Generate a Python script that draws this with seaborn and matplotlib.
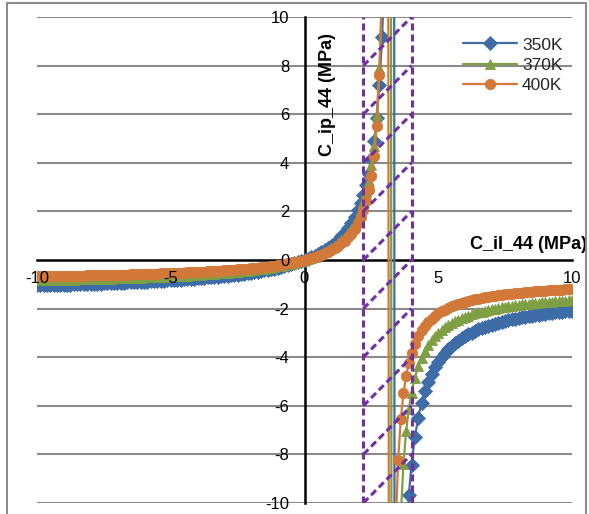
import matplotlib
matplotlib.use('Agg')
import matplotlib.pyplot as plt
import seaborn as sns
from matplotlib.patches import Rectangle

# valores (C_il_44 vs C_ip_44, MPa)
x_vals = [-10.0, -9.875, -9.75, -9.625, -9.5, -9.375, -9.25, -9.125,
          -9.0, -8.875, -8.75, -8.625, -8.5, -8.375, -8.25, -8.125,
          -8.0, -7.875, -7.75, -7.625, -7.5, -7.375, -7.25, -7.125,
          -7.0, -6.875, -6.75, -6.625, -6.5, -6.375, -6.25, -6.125,
          -6.0, -5.875, -5.75, -5.625, -5.5, -5.375, -5.25, -5.125,
          -5.0, -4.875, -4.75, -4.625, -4.5, -4.375, -4.25, -4.125,
          -4.0, -3.875, -3.75, -3.625, -3.5, -3.375, -3.25, -3.125,
          -3.0, -2.875, -2.75, -2.625, -2.5, -2.375, -2.25, -2.125,
          -2.0, -1.875, -1.75, -1.625, -1.5, -1.375, -1.25, -1.125,
          -1.0, -0.875, -0.75, -0.625, -0.5, -0.375, -0.25, -0.125,
          0.0, 0.125, 0.25, 0.375, 0.5, 0.625, 0.75, 0.875,
          1.0, 1.125, 1.25, 1.375, 1.5, 1.625, 1.75, 1.875,
          2.0,
          2.1, 2.2, 2.3, 2.4, 2.5, 2.6, 2.7, 2.8, 2.9, 3.0,
          3.1, 3.2, 3.3, 3.4, 3.5, 3.6, 3.7, 3.8, 3.9, 4.0,
          4.125, 4.25, 4.375, 4.5, 4.625, 4.75, 4.875, 5.0,
          5.125, 5.25, 5.375, 5.5, 5.625, 5.75, 5.875, 6.0,
          6.125, 6.25, 6.375, 6.5, 6.625, 6.75, 6.875, 7.0,
          7.125, 7.25, 7.375, 7.5, 7.625, 7.75, 7.875, 8.0,
          8.125, 8.25, 8.375, 8.5, 8.625, 8.75, 8.875, 9.0,
          9.125, 9.25, 9.375, 9.5, 9.625, 9.75, 9.875, 10.0]

y_350 = [-1.04, -1.04, -1.04, -1.03, -1.03, -1.02, -1.02, -1.02,
         -1.01, -1.01, -1.01, -1.00, -1.00, -0.99, -0.99, -0.98,
         -0.98, -0.98, -0.97, -0.97, -0.96, -0.96, -0.95, -0.95,
         -0.94, -0.94, -0.93, -0.92, -0.92, -0.91, -0.91, -0.90,
         -0.89, -0.89, -0.88, -0.87, -0.87, -0.86, -0.85, -0.84,
         -0.83, -0.82, -0.82, -0.81, -0.80, -0.79, -0.78, -0.77,
         -0.76, -0.75, -0.74, -0.72, -0.71, -0.70, -0.69, -0.67,
         -0.66, -0.64, -0.63, -0.61, -0.60, -0.58, -0.56, -0.54,
         -0.52, -0.50, -0.48, -0.45, -0.43, -0.41, -0.38, -0.35,
         -0.32, -0.29, -0.25, -0.22, -0.18, -0.14, -0.10, -0.05,
         0.0, 0.05, 0.11, 0.18, 0.24, 0.32, 0.40, 0.49,
         0.59, 0.71, 0.83, 0.97, 1.13, 1.32, 1.53, 1.78,
         2.07,
         2.35, 2.68, 3.07, 3.55, 4.14, 4.88, 5.86, 7.21, 9.16, 12.26,
         17.95, 31.77, 114.7, -78.77, -30.41, -19.25, -14.29, -11.48, -9.68, -8.42,
         -7.30, -6.49, -5.88, -5.39, -5.00, -4.68, -4.41, -4.19,
         -3.99, -3.82, -3.67, -3.54, -3.42, -3.32, -3.22, -3.14,
         -3.06, -2.99, -2.92, -2.86, -2.80, -2.75, -2.70, -2.66,
         -2.62, -2.58, -2.54, -2.51, -2.47, -2.44, -2.41, -2.39,
         -2.36, -2.34, -2.31, -2.29, -2.27, -2.25, -2.23, -2.21,
         -2.19, -2.18, -2.16, -2.14, -2.13, -2.11, -2.10, -2.09]

y_370 = [-0.84, -0.84, -0.83, -0.83, -0.83, -0.82, -0.82, -0.82,
         -0.82, -0.81, -0.81, -0.81, -0.80, -0.80, -0.80, -0.79,
         -0.79, -0.79, -0.78, -0.78, -0.77, -0.77, -0.77, -0.76,
         -0.76, -0.75, -0.75, -0.74, -0.74, -0.74, -0.73, -0.73,
         -0.72, -0.71, -0.71, -0.70, -0.70, -0.69, -0.69, -0.68,
         -0.67, -0.67, -0.66, -0.65, -0.64, -0.64, -0.63, -0.62,
         -0.61, -0.60, -0.59, -0.59, -0.58, -0.57, -0.55, -0.54,
         -0.53, -0.52, -0.51, -0.50, -0.48, -0.47, -0.45, -0.44,
         -0.42, -0.41, -0.39, -0.37, -0.35, -0.33, -0.31, -0.29,
         -0.26, -0.24, -0.21, -0.18, -0.15, -0.11, -0.08, -0.04,
         0.0, 0.04, 0.09, 0.14, 0.20, 0.26, 0.33, 0.41,
         0.49, 0.59, 0.69, 0.81, 0.95, 1.10, 1.29, 1.50,
         1.76,
         2.05, 2.38, 2.78, 3.25, 3.90, 4.70, 5.95, 7.90, 10.8, 15.5,
         25.0, 59.2, -80.4, -23.8, -14.38, -10.49, -8.38, -7.04, -6.13, -5.46,
         -4.84, -4.38, -4.02, -3.73, -3.50, -3.31, -3.14, -3.00,
         -2.88, -2.77, -2.68, -2.59, -2.52, -2.45, -2.39, -2.34,
         -2.29, -2.24, -2.20, -2.16, -2.12, -2.09, -2.06, -2.03,
         -2.00, -1.97, -1.95, -1.93, -1.91, -1.89, -1.87, -1.85,
         -1.83, -1.81, -1.80, -1.78, -1.77, -1.76, -1.74, -1.73,
         -1.72, -1.71, -1.70, -1.69, -1.68, -1.67, -1.66, -1.65]

y_400 = [-0.67, -0.67, -0.66, -0.66, -0.66, -0.66, -0.66, -0.65,
         -0.65, -0.65, -0.65, -0.64, -0.64, -0.64, -0.64, -0.63,
         -0.63, -0.63, -0.63, -0.62, -0.62, -0.62, -0.61, -0.61,
         -0.61, -0.60, -0.60, -0.60, -0.59, -0.59, -0.58, -0.58,
         -0.58, -0.57, -0.57, -0.56, -0.56, -0.55, -0.55, -0.54,
         -0.54, -0.53, -0.53, -0.52, -0.52, -0.51, -0.51, -0.50,
         -0.49, -0.49, -0.48, -0.47, -0.46, -0.45, -0.45, -0.44,
         -0.43, -0.42, -0.41, -0.40, -0.39, -0.38, -0.37, -0.35,
         -0.34, -0.33, -0.31, -0.30, -0.28, -0.27, -0.25, -0.23,
         -0.21, -0.19, -0.17, -0.14, -0.12, -0.09, -0.07, -0.03,
         0.0, 0.04, 0.08, 0.12, 0.17, 0.22, 0.27, 0.34,
         0.41, 0.49, 0.58, 0.68, 0.80, 0.93, 1.09, 1.28,
         1.52,
         1.76, 2.05, 2.42, 2.88, 3.44, 4.29, 5.53, 7.63, 11.5, 20.0,
         45.5, -63.8, -18.81, -11.32, -8.23, -6.55, -5.49, -4.76, -4.23, -3.83,
         -3.44, -3.14, -2.90, -2.71, -2.55, -2.42, -2.30, -2.20,
         -2.11, -2.04, -1.97, -1.91, -1.85, -1.80, -1.76, -1.72,
         -1.68, -1.65, -1.61, -1.59, -1.56, -1.53, -1.51, -1.49,
         -1.47, -1.45, -1.43, -1.41, -1.40, -1.38, -1.37, -1.35,
         -1.34, -1.33, -1.31, -1.30, -1.29, -1.28, -1.27, -1.26,
         -1.25, -1.25, -1.24, -1.23, -1.22, -1.21, -1.21, -1.20]

series_names = ['350K', '370K', '400K']
series_values = [y_350, y_370, y_400]
series_colors = ['#3D6CA6', '#7F9F45', '#D2793A']
series_markers = ['D', '^', 'o']
series_msize = [6.8, 7.5, 7.5]

# zona rayada (morado)
band_x = [2.2, 4.0]
diag_y0 = [-10, -8, -6, -4, -2, 0, 2, 4, 6, 8]

x_ticks = [-10, -5, 0, 5, 10]
y_ticks = [-10, -8, -6, -4, -2, 0, 2, 4, 6, 8, 10]

sns.set_theme(style='white')
plt.rcParams['font.family'] = ['Liberation Sans', 'DejaVu Sans']
plt.rcParams['axes.unicode_minus'] = False

fig = plt.figure(figsize=(5.89, 5.14), dpi=100)
ax = fig.add_axes([37 / 589, 11 / 514, 535 / 589, 486 / 514])

# lineas horizontales de fondo (debajo de todo)
for yt in y_ticks:
    if yt != 0:
        ax.axhline(yt, color='#8a8a8a', lw=1.5, zorder=0.5)
ax.grid(False)

for nombre, ys, col, mk, ms in zip(series_names, series_values, series_colors,
                                   series_markers, series_msize):
    sns.lineplot(x=x_vals, y=ys, ax=ax, color=col, marker=mk, markersize=ms,
                 markeredgecolor=col, markeredgewidth=0.6, lw=1.6,
                 estimator=None, label=nombre, zorder=3)

purpura = '#7030A0'
for bx in band_x:
    ax.plot([bx, bx], [-10, 10], color=purpura, lw=2.2, ls=(0, (2.3, 1.3)), zorder=4)
for y0 in diag_y0:
    ax.plot(band_x, [y0, y0 + 2], color=purpura, lw=2.2, ls=(0, (2.3, 1.3)), zorder=4)

ax.set_xlim(-10, 10)
ax.set_ylim(-10, 10)
ax.set_xticks(x_ticks)
ax.set_yticks(y_ticks)
ax.set_xlabel('')
ax.set_ylabel('')

# ejes que cruzan en el origen (estilo Excel)
for lado in ['top', 'right']:
    ax.spines[lado].set_visible(False)
ax.spines['left'].set_position(('data', 0))
ax.spines['bottom'].set_position(('data', 0))
for lado in ['left', 'bottom']:
    ax.spines[lado].set_color('black')
    ax.spines[lado].set_linewidth(1.8)
    ax.spines[lado].set_zorder(2.5)
ax.xaxis.set_zorder(5)
ax.yaxis.set_zorder(5)
ax.tick_params(axis='both', direction='out', length=4, width=1.8, color='black',
               labelsize=12, labelcolor='black')
ax.tick_params(axis='y', pad=7)
ax.tick_params(axis='x', pad=4)

ax.text(0.85, 6.8, 'C_ip_44 (MPa)', rotation=90, ha='center', va='center',
        fontsize=13, fontweight='bold', color='black', zorder=6)
ax.text(10.57, 0.63, 'C_il_44 (MPa)', ha='right', va='center',
        fontsize=13, fontweight='bold', color='black', clip_on=False, zorder=6)

handles, labels = ax.get_legend_handles_labels()
ax.legend(handles, labels, loc='upper left', bbox_to_anchor=(0.796, 0.958),
          frameon=False, fontsize=12.5, handlelength=3.1, handletextpad=0.3,
          labelspacing=0.28, borderpad=0, borderaxespad=0)

# marco exterior del grafico
fig.patches.append(Rectangle((7 / 589, -0.1), 579 / 589, 0.994 + 0.1,
                             transform=fig.transFigure, fill=False,
                             edgecolor='#8c8c8c', lw=1.5))

fig.savefig('out.png', dpi=100)
